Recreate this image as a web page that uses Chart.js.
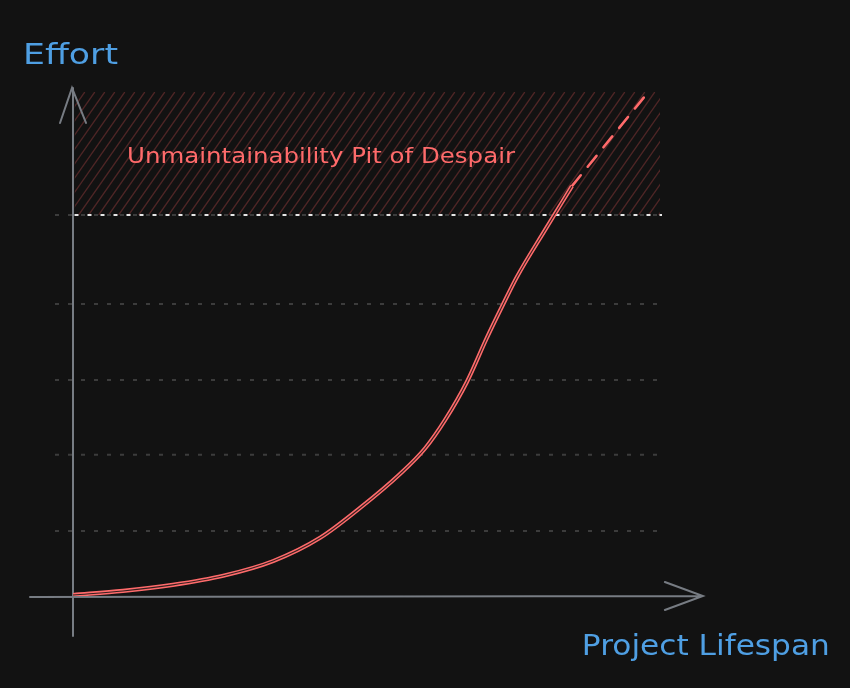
<!DOCTYPE html>
<html>
<head>
<meta charset="utf-8">
<script src="https://cdn.jsdelivr.net/npm/chart.js@4/dist/chart.umd.min.js"></script>
<style>
  html, body { margin: 0; padding: 0; background: #121212; }
  canvas { display: block; }
</style>
</head>
<body>
<canvas id="c" width="850" height="688"></canvas>
<script>
// ---- data (x: project lifespan, y: effort; arbitrary 0-100 units) ----
const lifespan = [0, 8.5, 17.0, 25.6, 34.1, 42.1, 48.9, 55.7, 60.0, 63.4, 67.1, 70.5, 73.3, 75.6, 80.4, 85.0];
const effort   = [0.2, 1.0, 2.2, 4.0, 6.9, 11.5, 17.4, 24.1, 29.2, 34.8, 42.3, 51.0, 57.7, 63.0, 72.3, 81.0];
const projLifespan = [85.0, 98.0];
const projEffort   = [81.0, 99.6];
const gridLevels = [12.85, 27.9, 42.7, 57.7];
const pitThreshold = 75.3;
const pitTop = 99.6;
const pitRange = [0.3, 100];
const xAxisTitle = "Project Lifespan";
const yAxisTitle = "Effort";
const pitLabel = "Unmaintainability Pit of Despair";

const RED = '#ff6b6b';
const BLUE = '#4f9fe3';
const AXIS = '#777c83';

const pts = (xs, ys) => xs.map((x, i) => ({ x, y: ys[i] }));

const sketchPlugin = {
  id: 'sketch',
  beforeDatasetsDraw(chart) {
    const { ctx } = chart;
    const xs = chart.scales.x, ys = chart.scales.y;
    const X = v => xs.getPixelForValue(v), Y = v => ys.getPixelForValue(v);
    ctx.save();
    // hatched pit region
    const hx0 = X(pitRange[0]), hx1 = X(pitRange[1]);
    const hy0 = Y(pitTop), hy1 = Y(pitThreshold);
    ctx.beginPath();
    ctx.rect(hx0, hy0, hx1 - hx0, hy1 - hy0);
    ctx.clip();
    ctx.strokeStyle = 'rgba(130,55,55,0.55)';
    ctx.lineWidth = 1.3;
    const h = hy1 - hy0;
    const dx = h / Math.tan(55 * Math.PI / 180);
    for (let x = hx0 - dx; x < hx1 + 10; x += 10) {
      ctx.beginPath();
      ctx.moveTo(x, hy1);
      ctx.lineTo(x + dx, hy0);
      ctx.stroke();
    }
    ctx.restore();

    // grid lines
    ctx.save();
    const gx0 = X(0) - 18, gx1 = X(100) + 2;
    ctx.lineWidth = 2;
    ctx.strokeStyle = '#3c3c3c';
    ctx.setLineDash([4, 9]);
    gridLevels.forEach(v => {
      ctx.beginPath();
      ctx.moveTo(gx0, Y(v));
      ctx.lineTo(gx1, Y(v));
      ctx.stroke();
    });
    // threshold line (white / grey alternating)
    const ty = Y(pitThreshold);
    ctx.strokeStyle = '#3c3c3c';
    ctx.setLineDash([4, 9]);
    ctx.beginPath(); ctx.moveTo(gx0, ty); ctx.lineTo(gx1, ty); ctx.stroke();
    ctx.strokeStyle = '#e6e6e6';
    ctx.lineDashOffset = -6.5;
    ctx.beginPath(); ctx.moveTo(gx0 + 13, ty); ctx.lineTo(gx1, ty); ctx.stroke();
    ctx.restore();

    // axes with arrows
    ctx.save();
    ctx.strokeStyle = AXIS;
    ctx.lineWidth = 2;
    ctx.lineCap = 'round';
    const ox = X(0), oy = Y(0);
    const yTip = Y(100.4), xTip = X(107.3);
    ctx.beginPath();
    ctx.moveTo(ox, oy + 40); ctx.lineTo(ox, yTip);
    ctx.moveTo(ox - 13, yTip + 35); ctx.lineTo(ox - 1, yTip); ctx.lineTo(ox + 13, yTip + 35);
    ctx.stroke();
    ctx.beginPath();
    ctx.moveTo(ox - 43, oy + 1); ctx.lineTo(xTip, oy);
    ctx.moveTo(xTip - 38, oy - 14); ctx.lineTo(xTip, oy); ctx.lineTo(xTip - 38, oy + 14);
    ctx.stroke();
    ctx.restore();
  },
  afterDraw(chart) {
    const { ctx } = chart;
    const xs = chart.scales.x, ys = chart.scales.y;
    const X = v => xs.getPixelForValue(v), Y = v => ys.getPixelForValue(v);
    const fit = (text, x, base, size, width, color) => {
      ctx.save();
      ctx.font = size + 'px "DejaVu Sans"';
      ctx.fillStyle = color;
      ctx.textBaseline = 'alphabetic';
      const w = ctx.measureText(text).width;
      ctx.translate(x, base);
      ctx.scale(width / w, 1);
      ctx.fillText(text, 0, 0);
      ctx.restore();
    };
    fit(yAxisTitle, X(0) - 50, Y(0) - 532, 29, 95, BLUE);
    fit(xAxisTitle, X(107.3) - 121, Y(0) + 59, 29, 248, BLUE);
    fit(pitLabel, X(9.2), Y(pitThreshold) - 52, 22, 388, RED);
  }
};

new Chart(document.getElementById('c'), {
  type: 'line',
  data: {
    datasets: [
      { data: pts(lifespan, effort), borderColor: RED, borderWidth: 4.2, pointRadius: 0, cubicInterpolationMode: 'monotone', order: 2 },
      { data: pts(lifespan, effort), borderColor: 'rgba(18,18,18,0.85)', borderWidth: 1.1, pointRadius: 0, cubicInterpolationMode: 'monotone', order: 1 },
      { data: pts(projLifespan, projEffort), borderColor: RED, borderWidth: 2.6, borderDash: [14, 11], borderCapStyle: 'round', pointRadius: 0, order: 3 }
    ]
  },
  options: {
    responsive: false,
    animation: false,
    devicePixelRatio: 1,
    layout: { padding: { left: 73, right: 190, top: 90, bottom: 92 } },
    plugins: { legend: { display: false }, tooltip: { enabled: false } },
    scales: {
      x: { type: 'linear', min: 0, max: 100, display: false },
      y: { type: 'linear', min: 0, max: 100, display: false }
    }
  },
  plugins: [sketchPlugin]
});
</script>
</body>
</html>
